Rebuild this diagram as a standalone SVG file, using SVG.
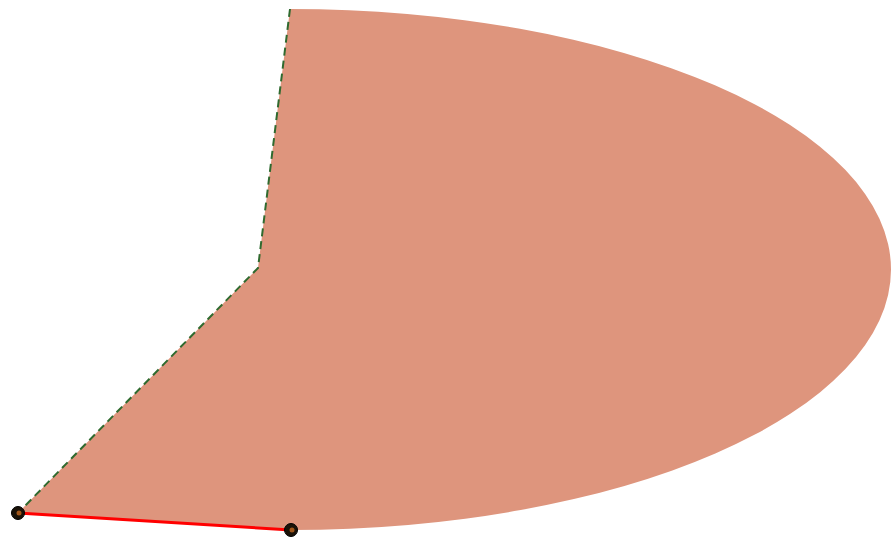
<svg xmlns="http://www.w3.org/2000/svg" width="892" height="542" viewBox="0 0 892 542">
<style>
.region{fill:#DE957D;stroke:none}
.dash{fill:none;stroke:#2F6A2F;stroke-width:2;stroke-dasharray:8,5}
.edge{fill:none;stroke:#FF0000;stroke-width:3}
.pt{fill:#1a1208;stroke:#000;stroke-width:1}
.pc{fill:#A0561A}
</style>
<rect width="892" height="542" fill="#ffffff"/>
<g id="region">
<path class="region" d="M290,9 A601,260.5 0 0 1 891,269.5 A601,260.5 0 0 1 291,530 L18,513 L258,268 Z"/>
</g>
<g id="connectors">
<path class="dash" d="M290,9 L258,268 L18,513"/>
<path class="edge" d="M18,513 L291,530"/>
</g>
<g id="p1"><circle class="pt" cx="18" cy="513" r="6.5"/><circle class="pc" cx="19" cy="513" r="2.5"/></g>
<g id="p2"><circle class="pt" cx="291" cy="530" r="6.5"/><circle class="pc" cx="292" cy="530" r="2.5"/></g>
</svg>
